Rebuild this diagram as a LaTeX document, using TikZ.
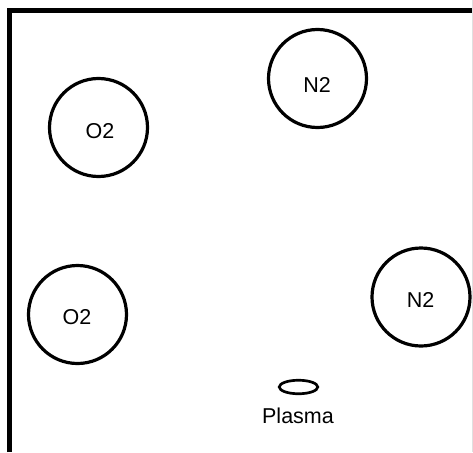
\documentclass[tikz,border=0pt]{standalone}
\usepackage{fontspec}
\setmainfont{Liberation Sans}
\usetikzlibrary{shapes.geometric}
\tikzset{
  molecule/.style={draw, circle, line width=3.2pt, minimum size=98pt, inner sep=0pt},
  lbl/.style={inner sep=0pt, font=\fontsize{21.5}{25}\selectfont},
  frameline/.style={line width=5pt, line join=miter},
  plasmaring/.style={draw, ellipse, line width=2.7pt, minimum width=38.5pt, minimum height=13.5pt, inner sep=0pt}
}
\begin{document}
\begin{tikzpicture}[x=1pt, y=-1pt]
\useasboundingbox (0,0) rectangle (473,452);
% frame
\coordinate (fb) at (9.5,452);
\coordinate (fc) at (9.5,10.5);
\coordinate (fr) at (473,10.5);
\draw[frameline] (fb) -- (fc) -- (fr);
\coordinate (rt) at (472.5,0);
\coordinate (rb) at (472.5,452);
\draw[line width=0.8pt, black!12] (rt) -- (rb);
% molecules
\node[molecule] (o2a) at (98.5,127.5) {};
\node[lbl] (o2alab) at (100,131.5) {O2};
\node[molecule] (n2a) at (317.5,78.5) {};
\node[lbl] (n2alab) at (317,85) {N2};
\node[molecule] (n2b) at (421,297) {};
\node[lbl] (n2blab) at (420.5,300) {N2};
\node[molecule] (o2b) at (77.5,314.5) {};
\node[lbl] (o2blab) at (77,317) {O2};
% plasma
\node[plasmaring] (plasma) at (298.5,387) {};
\node[lbl] (plasmalab) at (298,416) {Plasma};
\end{tikzpicture}
\end{document}
